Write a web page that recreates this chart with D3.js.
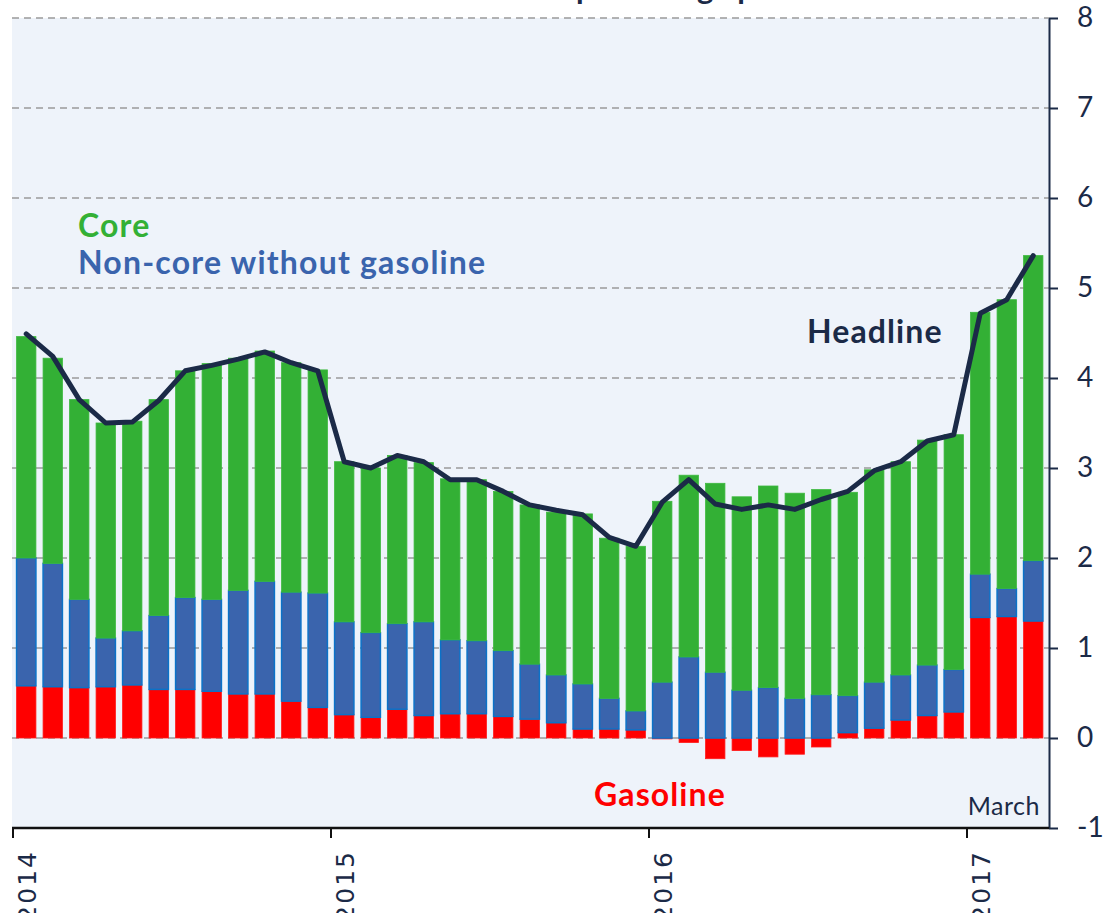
<!DOCTYPE html>
<html>
<head>
<meta charset="utf-8">
<script src="https://cdn.jsdelivr.net/npm/d3@7"></script>
<style>
	body { margin: 0; background: #ffffff; }
	text { font-family: Lato, "Open Sans", sans-serif; }
</style>
</head>
<body>
<div id="chart"></div>
<script>

// monthly, January 2014 .. March 2017 (percentage points)
var months = d3.range(39).map(function (i) { return new Date(2014, i, 1); });

var gasoline = [0.58, 0.57, 0.56, 0.57, 0.59, 0.54, 0.54, 0.52, 0.49, 0.49, 0.41, 0.34,
	0.26, 0.23, 0.32, 0.25, 0.27, 0.27, 0.24, 0.21, 0.17, 0.10, 0.10, 0.09,
	-0.01, -0.05, -0.23, -0.14, -0.21, -0.18, -0.10, 0.06, 0.11, 0.20, 0.25, 0.29,
	1.34, 1.35, 1.30];

var nonCore = [1.42, 1.37, 0.98, 0.54, 0.60, 0.82, 1.02, 1.02, 1.15, 1.25, 1.21, 1.27,
	1.03, 0.94, 0.95, 1.04, 0.82, 0.81, 0.73, 0.61, 0.53, 0.50, 0.34, 0.21,
	0.62, 0.90, 0.73, 0.53, 0.56, 0.44, 0.48, 0.41, 0.51, 0.50, 0.56, 0.47,
	0.48, 0.31, 0.67];

var core = [2.46, 2.28, 2.22, 2.39, 2.33, 2.40, 2.52, 2.62, 2.58, 2.56, 2.55, 2.48,
	1.78, 1.83, 1.87, 1.77, 1.79, 1.79, 1.77, 1.77, 1.81, 1.89, 1.78, 1.83,
	2.01, 2.02, 2.10, 2.15, 2.24, 2.28, 2.28, 2.26, 2.36, 2.37, 2.50, 2.61,
	2.91, 3.21, 3.39];

var headline = [4.49, 4.24, 3.76, 3.50, 3.51, 3.75, 4.08, 4.14, 4.21, 4.29, 4.17, 4.08,
	3.07, 3.00, 3.14, 3.07, 2.87, 2.87, 2.74, 2.59, 2.53, 2.48, 2.23, 2.13,
	2.62, 2.87, 2.60, 2.54, 2.59, 2.54, 2.65, 2.74, 2.97, 3.07, 3.30, 3.37,
	4.72, 4.87, 5.36];

var yearTicks = ["2014", "2015", "2016", "2017"];
var yTicks = [-1, 0, 1, 2, 3, 4, 5, 6, 7, 8];

var width = 1104,
	height = 913;

var plotLeft = 12,
	plotRight = 1049,
	plotTop = 18,
	plotBottom = 828;

var svg = d3.select("#chart")
	.append("svg")
	.attr("width", width)
	.attr("height", height);

var x = d3.scaleBand()
	.domain(d3.range(months.length))
	.range([13, 1046.5])
	.paddingInner(0.27)
	.paddingOuter(0.135);

var y = d3.scaleLinear()
	.domain([-1, 8])
	.range([plotBottom, plotTop]);

// title, cut off by the top edge: only descenders show
svg.append("text")
	.attr("x", 576)
	.attr("y", -1)
	.attr("font-size", 31)
	.attr("font-weight", "bold")
	.attr("fill", "#1b2a47")
	.text("percentage points");
svg.append("text")
	.attr("x", 566)
	.attr("y", -1)
	.attr("text-anchor", "end")
	.attr("font-size", 31)
	.attr("font-weight", "bold")
	.attr("fill", "#1b2a47")
	.text("Contributions to inflation in");

svg.append("rect")
	.attr("x", plotLeft)
	.attr("y", plotTop)
	.attr("width", plotRight - plotLeft)
	.attr("height", plotBottom - plotTop)
	.attr("fill", "#eef3fa");

// gridlines
svg.append("g")
	.selectAll("line")
	.data(yTicks.filter(function (d) { return d >= 0; }))
	.enter()
	.append("line")
	.attr("x1", plotLeft)
	.attr("x2", plotRight)
	.attr("y1", function (d) { return y(d); })
	.attr("y2", function (d) { return y(d); })
	.attr("stroke", "#9a9a9a")
	.attr("stroke-width", 1.5)
	.attr("stroke-dasharray", "7,5");

var rows = months.map(function (m, i) {
	return { i: i, gasoline: gasoline[i], nonCore: nonCore[i], core: core[i] };
});

var series = d3.stack()
	.keys(["gasoline", "nonCore", "core"])
	.offset(d3.stackOffsetDiverging)(rows);

var fills = { gasoline: "#ff0000", nonCore: "#3a64ad", core: "#33b035" };
var strokes = { gasoline: "#ff1a1a", nonCore: "#0b72c8", core: "#3cb83e" };

svg.append("g")
	.selectAll("g")
	.data(series)
	.enter()
	.append("g")
	.attr("fill", function (s) { return fills[s.key]; })
	.attr("stroke", function (s) { return strokes[s.key]; })
	.attr("stroke-width", function (s) { return s.key === "nonCore" ? 1.5 : 0.8; })
	.selectAll("rect")
	.data(function (s) { return s; })
	.enter()
	.append("rect")
	.attr("x", function (d) { return x(d.data.i); })
	.attr("width", x.bandwidth())
	.attr("y", function (d) { return y(Math.max(d[0], d[1])); })
	.attr("height", function (d) { return Math.abs(y(d[0]) - y(d[1])); });

// headline line
svg.append("path")
	.datum(headline)
	.attr("fill", "none")
	.attr("stroke", "#1b2a47")
	.attr("stroke-width", 5)
	.attr("stroke-linejoin", "round")
	.attr("stroke-linecap", "round")
	.attr("d", d3.line()
		.x(function (d, i) { return x(i) + x.bandwidth() / 2; })
		.y(function (d) { return y(d); })
	);

// right axis
var yAxis = svg.append("g")
	.attr("transform", "translate(" + plotRight + ",0)")
	.call(d3.axisRight(y)
		.tickValues(yTicks)
		.tickFormat(function (d) { return String(d); })
		.tickSize(9)
		.tickPadding(19)
		.tickSizeOuter(0));
yAxis.select(".domain").attr("stroke", "#1b2a47").attr("stroke-width", 2);
yAxis.selectAll(".tick line").attr("stroke", "#1b2a47").attr("stroke-width", 2);
yAxis.selectAll(".tick text")
	.attr("fill", "#1b2a47")
	.attr("font-size", 28)
	.style("font-family", "Lato, 'Open Sans', sans-serif");

// bottom axis with year ticks
var yearX = function (k) {
	return x(k * 12) - x.step() * x.paddingOuter();
};

svg.append("line")
	.attr("x1", plotLeft)
	.attr("x2", plotRight)
	.attr("y1", plotBottom)
	.attr("y2", plotBottom)
	.attr("stroke", "#111111")
	.attr("stroke-width", 2.5);

svg.append("g")
	.selectAll("line")
	.data(yearTicks)
	.enter()
	.append("line")
	.attr("x1", function (d, k) { return yearX(k); })
	.attr("x2", function (d, k) { return yearX(k); })
	.attr("y1", plotBottom)
	.attr("y2", plotBottom + 10)
	.attr("stroke", "#111111")
	.attr("stroke-width", 2);

svg.append("g")
	.selectAll("text")
	.data(yearTicks)
	.enter()
	.append("text")
	.attr("transform", function (d, k) {
		return "translate(" + (yearX(k) + 23) + "," + (plotBottom + 22) + ") rotate(-90)";
	})
	.attr("text-anchor", "end")
	.attr("font-size", 25)
	.attr("letter-spacing", 2)
	.attr("fill", "#1b2a47")
	.style("font-family", "'DejaVu Sans', sans-serif")
	.text(function (d) { return d; });

// labels
svg.append("text")
	.attr("x", 78)
	.attr("y", 237)
	.attr("font-size", 32)
	.attr("letter-spacing", 1.2)
	.attr("font-weight", "bold")
	.attr("fill", "#33b035")
	.text("Core");

svg.append("text")
	.attr("x", 78)
	.attr("y", 274)
	.attr("font-size", 32)
	.attr("letter-spacing", 1.2)
	.attr("font-weight", "bold")
	.attr("fill", "#3a64ad")
	.text("Non-core without gasoline");

svg.append("text")
	.attr("x", 807)
	.attr("y", 343)
	.attr("font-size", 32)
	.attr("letter-spacing", 1.1)
	.attr("font-weight", "bold")
	.attr("fill", "#1b2a47")
	.text("Headline");

svg.append("text")
	.attr("x", 660)
	.attr("y", 806)
	.attr("text-anchor", "middle")
	.attr("font-size", 32)
	.attr("letter-spacing", 1.1)
	.attr("font-weight", "bold")
	.attr("fill", "#ff0000")
	.text("Gasoline");

svg.append("text")
	.attr("x", 1040)
	.attr("y", 815)
	.attr("text-anchor", "end")
	.attr("font-size", 25)
	.attr("letter-spacing", 0.5)
	.attr("fill", "#1b2a47")
	.text("March");

</script>
</body>
</html>
